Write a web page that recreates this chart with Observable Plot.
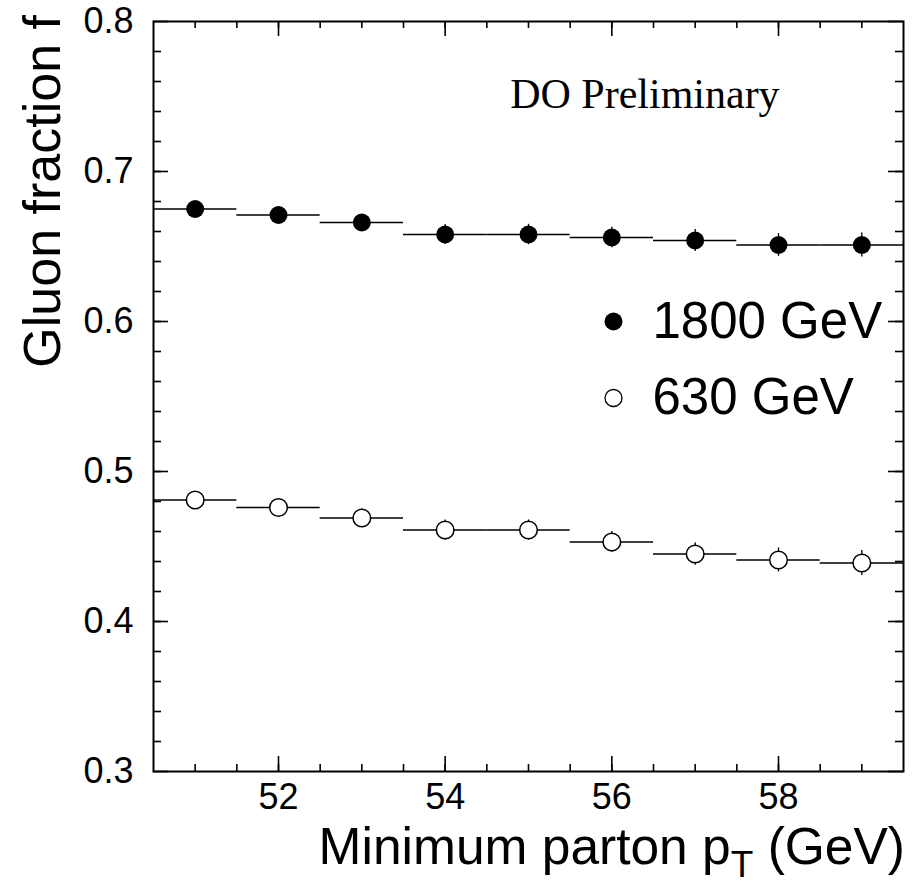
<!DOCTYPE html>
<html>
<head>
<meta charset="utf-8">
<script src="https://cdn.jsdelivr.net/npm/d3@7"></script>
<script src="https://cdn.jsdelivr.net/npm/@observablehq/plot@0.6"></script>
<style>
  html, body { margin: 0; padding: 0; background: #fff; }
  #chart svg { display: block; }
</style>
</head>
<body>
<div id="chart"></div>
<script>
// ---- data ----
const ptMin = [51, 52, 53, 54, 55, 56, 57, 58, 59];
const gluon1800 = [0.675, 0.671, 0.666, 0.658, 0.658, 0.656, 0.654, 0.651, 0.651];
const err1800   = [0.004, 0.005, 0.005, 0.0067, 0.0068, 0.0068, 0.0074, 0.0076, 0.008];
const gluon630  = [0.481, 0.476, 0.469, 0.461, 0.461, 0.453, 0.445, 0.441, 0.439];
const err630    = [0.005, 0.0055, 0.006, 0.0067, 0.0067, 0.007, 0.0075, 0.008, 0.0083];
const seriesNames = ["1800 GeV", "630 GeV"];
const xTickLabels = [52, 54, 56, 58];
const yTickLabels = [0.3, 0.4, 0.5, 0.6, 0.7, 0.8];
const noteText = "DO Preliminary";
const xTitle = ["Minimum parton p", "T", " (GeV)"];
const yTitle = "Gluon fraction f";

// ---- layout ----
const W = 921, H = 889;
const mL = 153, mR = 18, mT = 21, mB = 118;
const plotW = W - mL - mR, plotH = H - mT - mB;
const xDomain = [50.5, 59.5], yDomain = [0.3, 0.8];
const binHalf = 0.5;
const xMinor = d3.range(51, 59.5, 0.5);
const yMinor = d3.range(0.32, 0.79, 0.02).map(v => +v.toFixed(2));

const rows1800 = ptMin.map((x, i) => ({x, y: gluon1800[i], e: err1800[i]}));
const rows630  = ptMin.map((x, i) => ({x, y: gluon630[i],  e: err630[i]}));
const legendRows = seriesNames.map((name, i) => ({name, lx: 56.02, ly: 0.6 - i * 0.051, filled: i === 0}));

const font = "'Liberation Sans', Arial, Helvetica, sans-serif";

function seriesMarks(rows, filled) {
  return [
    Plot.ruleY(rows, {y: "y", x1: d => d.x - binHalf, x2: d => d.x + binHalf, stroke: "#000", strokeWidth: 1.3}),
    Plot.ruleX(rows, {x: "x", y1: d => d.y - d.e, y2: d => d.y + d.e, stroke: "#000", strokeWidth: 1.3}),
    filled
      ? Plot.dot(rows, {x: "x", y: "y", r: 9, fill: "#000", stroke: "none"})
      : Plot.dot(rows, {x: "x", y: "y", r: 8.8, fill: "#fff", stroke: "#000", strokeWidth: 1.5})
  ];
}

const chart = Plot.plot({
  width: W, height: H,
  marginLeft: mL, marginRight: mR, marginTop: mT, marginBottom: mB,
  style: {fontFamily: font, color: "#000", background: "#fff", overflow: "visible"},
  x: {domain: xDomain},
  y: {domain: yDomain},
  marks: [
    // inward ticks: left / right
    Plot.ruleY(yTickLabels, {y: d => d, insetRight: plotW - 15, stroke: "#000", strokeWidth: 1.6}),
    Plot.ruleY(yMinor, {y: d => d, insetRight: plotW - 8, stroke: "#000", strokeWidth: 1.6}),
    Plot.ruleY(yTickLabels, {y: d => d, insetLeft: plotW - 15, stroke: "#000", strokeWidth: 1.6}),
    Plot.ruleY(yMinor, {y: d => d, insetLeft: plotW - 8, stroke: "#000", strokeWidth: 1.6}),
    // inward ticks: bottom / top
    Plot.ruleX(xTickLabels, {x: d => d, insetTop: plotH - 15, stroke: "#000", strokeWidth: 1.6}),
    Plot.ruleX(xMinor, {x: d => d, insetTop: plotH - 7, stroke: "#000", strokeWidth: 1.6}),
    Plot.ruleX(xTickLabels, {x: d => d, insetBottom: plotH - 15, stroke: "#000", strokeWidth: 1.6}),
    Plot.ruleX(xMinor, {x: d => d, insetBottom: plotH - 7, stroke: "#000", strokeWidth: 1.6}),
    // tick labels
    Plot.axisX({anchor: "bottom", ticks: xTickLabels, tickSize: 0, tickPadding: 12, fontSize: 36, label: null, tickFormat: d => String(d)}),
    Plot.axisY({anchor: "left", ticks: yTickLabels, tickSize: 0, tickPadding: 20, fontSize: 36, label: null, tickFormat: d3.format(".1f")}),
    // data
    ...seriesMarks(rows1800, true),
    ...seriesMarks(rows630, false),
    // legend
    Plot.dot(legendRows.filter(d => d.filled), {x: "lx", y: "ly", r: 9, fill: "#000"}),
    Plot.dot(legendRows.filter(d => !d.filled), {x: "lx", y: "ly", r: 8.5, fill: "#fff", stroke: "#000", strokeWidth: 1.3}),
    Plot.text(legendRows, {x: "lx", y: "ly", text: "name", dx: 39, textAnchor: "start", lineAnchor: "middle", fontSize: 51, fill: "#000"}),
    // note
    Plot.text([noteText], {x: 54.78, y: 0.7515, text: d => d, textAnchor: "start", lineAnchor: "middle", fontSize: 42, fontFamily: "'Liberation Serif', 'Times New Roman', serif", fill: "#000"}),
    Plot.frame({stroke: "#000", strokeWidth: 2})
  ]
});

const svg = d3.select(chart);
// x axis title with subscript
const xt = svg.append("text")
  .attr("x", W - mR + 2).attr("y", 864)
  .attr("text-anchor", "end")
  .attr("font-family", font).attr("font-size", 51.5).attr("fill", "#000");
xt.append("tspan").text(xTitle[0]);
xt.append("tspan").attr("font-size", 37).attr("dy", 13).text(xTitle[1]);
xt.append("tspan").attr("dy", -13).text(xTitle[2]);
// y axis title rotated
svg.append("text")
  .attr("transform", "translate(60,15) rotate(-90)")
  .attr("text-anchor", "end")
  .attr("font-family", font).attr("font-size", 52).attr("fill", "#000")
  .text(yTitle);

document.getElementById("chart").appendChild(chart);
</script>
</body>
</html>
